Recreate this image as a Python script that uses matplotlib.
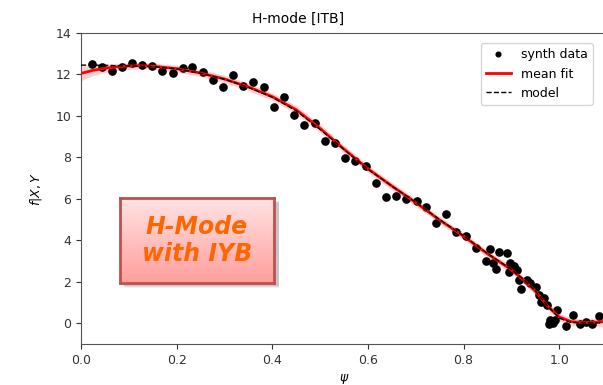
import numpy as np
import matplotlib
matplotlib.use("Agg")
import matplotlib.pyplot as plt
from matplotlib.patches import Rectangle

# synthetic measurements
psi_data = [0.022, 0.043, 0.064, 0.085, 0.106, 0.127, 0.148, 0.169, 0.192, 0.213,
            0.233, 0.256, 0.276, 0.297, 0.318, 0.339, 0.360, 0.382, 0.403, 0.424,
            0.445, 0.466, 0.489, 0.510, 0.531, 0.552, 0.573, 0.595, 0.616, 0.637,
            0.658, 0.679, 0.702, 0.722, 0.743, 0.764, 0.785, 0.806, 0.827, 0.848,
            0.856, 0.862, 0.867, 0.874, 0.890, 0.895, 0.897, 0.905, 0.912, 0.915,
            0.921, 0.933, 0.940, 0.952, 0.958, 0.963, 0.968, 0.975, 0.979, 0.980,
            0.987, 0.991, 0.995, 1.014, 1.028, 1.043, 1.057, 1.069, 1.083]
f_data = [12.51, 12.35, 12.19, 12.35, 12.57, 12.46, 12.43, 12.19, 12.06, 12.30,
          12.38, 12.14, 11.74, 11.39, 11.98, 11.45, 11.66, 11.39, 10.45, 10.90,
          10.05, 9.57, 9.68, 8.81, 8.68, 7.96, 7.83, 7.60, 6.78, 6.10,
          6.14, 5.99, 5.91, 5.59, 4.85, 5.27, 4.41, 4.19, 3.61, 3.01,
          3.56, 2.91, 2.64, 3.44, 3.37, 2.48, 2.91, 2.75, 2.59, 2.08,
          1.64, 2.08, 1.95, 1.75, 1.35, 1.03, 1.24, 0.87, -0.05, 0.14,
          -0.01, 0.18, 0.66, -0.14, 0.39, -0.05, 0.06, -0.05, 0.34]

# fit and model profiles
psi_grid = [0.0, 0.025, 0.05, 0.075, 0.1, 0.125, 0.15, 0.2, 0.25, 0.3, 0.35, 0.4,
            0.45, 0.5, 0.55, 0.6, 0.65, 0.7, 0.75, 0.8, 0.85, 0.9, 0.925, 0.95,
            0.975, 1.0, 1.025, 1.05, 1.075, 1.1]
mean_fit = [12.05, 12.2, 12.3, 12.37, 12.41, 12.42, 12.4, 12.28, 12.07, 11.78,
            11.4, 10.93, 10.3, 9.4, 8.4, 7.45, 6.62, 5.82, 4.98, 4.2, 3.35, 2.58,
            2.1, 1.55, 0.85, 0.3, 0.08, 0.03, 0.05, 0.1]
fit_lo = [11.7, 11.95, 12.1, 12.2, 12.25, 12.27, 12.25, 12.12, 11.9, 11.6,
          11.22, 10.75, 10.1, 9.2, 8.22, 7.28, 6.45, 5.65, 4.82, 4.03, 3.18, 2.4,
          1.92, 1.36, 0.67, 0.12, -0.1, -0.15, -0.15, -0.2]
fit_hi = [12.4, 12.45, 12.5, 12.54, 12.57, 12.57, 12.55, 12.44, 12.24, 11.96,
          11.58, 11.11, 10.5, 9.6, 8.58, 7.62, 6.79, 5.99, 5.14, 4.37, 3.52, 2.76,
          2.28, 1.74, 1.03, 0.48, 0.26, 0.21, 0.25, 0.4]
model = [12.45, 12.45, 12.44, 12.42, 12.41, 12.4, 12.38, 12.27, 12.06, 11.77,
         11.38, 10.9, 10.25, 9.35, 8.38, 7.43, 6.62, 5.84, 5.0, 4.22, 3.37, 2.6,
         2.12, 1.56, 0.85, 0.25, 0.04, 0.02, 0.02, 0.02]

W, H = 603, 385
fig = plt.figure(figsize=(W / 100, H / 100), dpi=100)
ax = fig.add_axes([81 / W, (H - 344) / H, (607 - 81) / W, (344 - 33) / H])

ax.fill_between(psi_grid, fit_lo, fit_hi, color="#ff6060", alpha=0.3, lw=0)
ax.plot(psi_data, f_data, "ko", ms=5.2, label="synth data", zorder=3)
ax.plot(psi_grid, mean_fit, color="red", lw=2, label="mean fit", zorder=4)
ax.plot(psi_grid, model, "k--", lw=1, label="model", zorder=5)

ax.set_xlim(0, 1.1)
ax.set_ylim(-1, 14)
ax.set_xticks([0.0, 0.2, 0.4, 0.6, 0.8, 1.0])
ax.set_yticks(range(0, 15, 2))
ax.tick_params(labelsize=9, colors="#333333")
for s in ax.spines.values():
    s.set_color("#555555")

ax.set_title("H-mode [ITB]", fontsize=10, x=(298 - 81) / (607 - 81), pad=7)
ax.set_xlabel(r"$\psi$", fontsize=9)
ax.set_ylabel(r"$f|X, Y$", fontsize=9, labelpad=8)
ax.legend(loc="upper right", bbox_to_anchor=(599 / W, (H - 37) / H),
          bbox_transform=fig.transFigure, fontsize=9, markerscale=0.65)

# annotation box with soft shadow and gradient fill
bx0, by0, bw, bh = 120, 198, 154, 85
for k, a in enumerate([0.06, 0.08, 0.1]):
    off = 5 - k
    fig.patches.append(Rectangle(((bx0 + off) / W, (H - by0 - bh - off) / H),
                                 (bw + k) / W, bh / H, transform=fig.transFigure,
                                 color="black", alpha=a, lw=0, zorder=8))
bax = fig.add_axes([bx0 / W, (H - by0 - bh) / H, bw / W, bh / H], zorder=10)
grad = np.linspace(0, 1, 100).reshape(-1, 1)
cmap = matplotlib.colors.LinearSegmentedColormap.from_list("pinkbox", ["#ffe3e3", "#ff9f9c"])
bax.imshow(grad, cmap=cmap, aspect="auto", extent=[0, 1, 0, 1], origin="upper")
bax.set_xlim(0, 1)
bax.set_ylim(0, 1)
bax.set_xticks([])
bax.set_yticks([])
for s in bax.spines.values():
    s.set_color("#c0504d")
    s.set_linewidth(2)
bax.text(0.5, 0.5, "H-Mode\nwith IYB", ha="center", va="center", color="#ff6600",
         fontsize=17, fontweight="bold", fontstyle="italic", linespacing=1.15,
         family="DejaVu Sans")

fig.savefig("out.png", dpi=100)
